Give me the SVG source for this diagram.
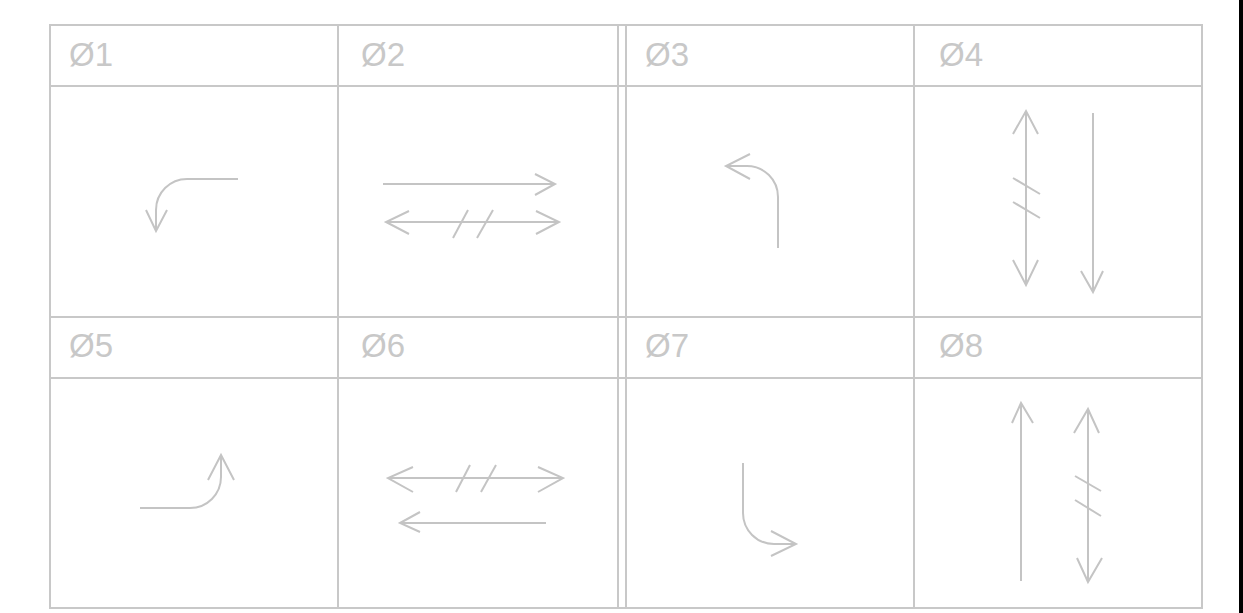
<svg xmlns="http://www.w3.org/2000/svg" width="1243" height="613" viewBox="0 0 1243 613">
<style>
.grid{stroke:#c8c8c8;stroke-width:2;fill:none}
.lbl{font-family:"Liberation Sans",Arial,sans-serif;font-size:33px;fill:#c8c8c8}
.ar{stroke:#c4c4c4;stroke-width:2;fill:none;stroke-linecap:butt;stroke-linejoin:miter}
</style>
<rect width="1243" height="613" fill="#ffffff"/>
<rect x="1239" y="0" width="4" height="613" fill="#000000"/>
<g id="table" class="grid">
<rect x="50" y="25" width="1152" height="583"/>
<line x1="50" y1="86" x2="1202" y2="86"/>
<line x1="50" y1="317" x2="1202" y2="317"/>
<line x1="50" y1="378" x2="1202" y2="378"/>
<line x1="338" y1="25" x2="338" y2="608"/>
<line x1="618" y1="25" x2="618" y2="608"/>
<line x1="626" y1="25" x2="626" y2="608"/>
<line x1="914" y1="25" x2="914" y2="608"/>
</g>
<g id="cell1"><text class="lbl" x="69" y="66">Ø1</text></g>
<g id="cell2"><text class="lbl" x="361" y="66">Ø2</text></g>
<g id="cell3"><text class="lbl" x="645" y="66">Ø3</text></g>
<g id="cell4"><text class="lbl" x="939" y="66">Ø4</text></g>
<g id="cell5"><text class="lbl" x="69" y="357">Ø5</text></g>
<g id="cell6"><text class="lbl" x="361" y="357">Ø6</text></g>
<g id="cell7"><text class="lbl" x="645" y="357">Ø7</text></g>
<g id="cell8"><text class="lbl" x="939" y="357">Ø8</text></g>
<g id="connectors" class="ar">
<path d="M238,179 H187 A31,31 0 0 0 156,210 V230"/>
<path d="M146,210 L156,231 L167,210"/>
<path d="M383,184 H555"/>
<path d="M535,174 L555,184 L535,195"/>
<path d="M386,222 H559"/>
<path d="M409,211 L386,222 L409,234"/>
<path d="M536,211 L559,222 L536,234"/>
<path d="M468,210 L453,238"/>
<path d="M493,210 L477,238"/>
<path d="M778,248 V197 A31,31 0 0 0 747,166 H726"/>
<path d="M750,154 L726,166 L750,179"/>
<path d="M1026,111 V285"/>
<path d="M1013,134 L1026,111 L1038,134"/>
<path d="M1013,260 L1026,285 L1038,260"/>
<path d="M1013,178 L1040,194"/>
<path d="M1013,202 L1040,218"/>
<path d="M1093,113 V292"/>
<path d="M1081,271 L1093,292 L1103,271"/>
<path d="M140,508 H190 A31,31 0 0 0 221,477 V455"/>
<path d="M208,480 L221,455 L234,480"/>
<path d="M388,478 H563"/>
<path d="M413,467 L388,478 L413,492"/>
<path d="M538,467 L563,478 L538,492"/>
<path d="M470,465 L456,492"/>
<path d="M496,465 L481,492"/>
<path d="M400,523 H546"/>
<path d="M420,512 L400,523 L420,532"/>
<path d="M743,463 V513 A31,31 0 0 0 774,544 H796"/>
<path d="M771,531 L796,544 L771,556"/>
<path d="M1021,403 V581"/>
<path d="M1012,423 L1021,403 L1033,423"/>
<path d="M1088,409 V582"/>
<path d="M1074,433 L1088,409 L1099,433"/>
<path d="M1077,558 L1088,582 L1102,558"/>
<path d="M1075,476 L1101,491"/>
<path d="M1075,500 L1101,516"/>
</g>
</svg>
